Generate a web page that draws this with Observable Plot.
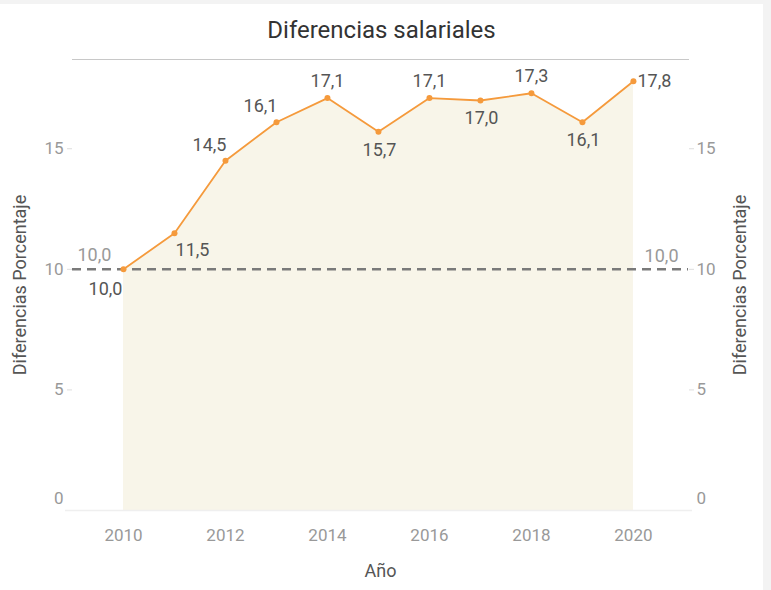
<!DOCTYPE html>
<html>
<head>
<meta charset="utf-8">
<script src="https://cdn.jsdelivr.net/npm/d3@7"></script>
<script src="https://cdn.jsdelivr.net/npm/@observablehq/plot@0.6"></script>
<style>
  html, body { margin: 0; padding: 0; }
  body { width: 771px; height: 590px; background: #f3f3f3; position: relative; overflow: hidden; font-family: Roboto, "Noto Sans", sans-serif; }
  #card { position: absolute; left: 0; top: 4px; width: 763px; height: 586px; background: #fff; }
  #title { position: absolute; left: 0; top: 0; width: 763px; height: 52px; line-height: 52px; text-align: center; font-size: 24px; color: #333; }
  #chart { position: absolute; left: 0; top: 50px; }
</style>
</head>
<body>
<div id="card">
  <div id="title">Diferencias salariales</div>
  <div id="chart"></div>
</div>
<script>
const years = [2010, 2011, 2012, 2013, 2014, 2015, 2016, 2017, 2018, 2019, 2020];
const values = [10.0, 11.5, 14.5, 16.1, 17.1, 15.7, 17.1, 17.0, 17.3, 16.1, 17.8];
const labelSide = ["bl", "br", "al", "al", "a", "b", "a", "b", "a", "b", "r"];
const referenceValue = 10.0;
const yTicks = [0, 5, 10, 15];
const xTicks = [2010, 2012, 2014, 2016, 2018, 2020];
const yTitle = "Diferencias Porcentaje";
const xTitle = "Año";

const data = years.map((year, i) => ({year, value: values[i], side: labelSide[i]}));
const fmt = v => v.toFixed(1).replace(".", ",");

const sides = {
  bl: {dx: -18, dy: 20, textAnchor: "middle"},
  br: {dx: 18, dy: 17, textAnchor: "middle"},
  al: {dx: -16, dy: -16, textAnchor: "middle"},
  a: {dx: 0, dy: -17, textAnchor: "middle"},
  b: {dx: 1, dy: 18, textAnchor: "middle"},
  r: {dx: 4, dy: 0, textAnchor: "start"}
};

const xDomain = [2009, 2021.08];
const labelFont = 18;
const tickFont = 17;
const labelMarks = Object.entries(sides).map(([key, s]) =>
  Plot.text(data.filter(d => d.side === key), {
    x: "year", y: "value", text: d => fmt(d.value),
    dx: s.dx, dy: s.dy, textAnchor: s.textAnchor,
    fill: "#555", fontSize: labelFont
  })
);

const chart = Plot.plot({
  width: 763,
  height: 536,
  marginTop: 5,
  marginLeft: 72,
  marginRight: 75,
  marginBottom: 80,
  style: {fontFamily: "Roboto, 'Noto Sans', sans-serif", background: "transparent", overflow: "visible"},
  x: {domain: xDomain},
  y: {domain: [0, 18.7]},
  marks: [
    Plot.areaY(data, {x: "year", y: "value", fill: "#f8f5e9"}),
    Plot.frame({anchor: "top", stroke: "#c8c8c8", strokeWidth: 1}),
    Plot.ruleY([0], {stroke: "#efefef", strokeWidth: 1.5, insetLeft: -7, insetRight: -4}),
    Plot.ruleY([referenceValue], {stroke: "#7a7a7a", strokeWidth: 2.5, strokeDasharray: "9,6"}),
    Plot.text([referenceValue], {x: xDomain[0], y: d => d, text: d => fmt(d), dx: 5, dy: -14, textAnchor: "start", fill: "#999", fontSize: labelFont}),
    Plot.text([referenceValue], {x: xDomain[1], y: d => d, text: d => fmt(d), dx: -10, dy: -13, textAnchor: "end", fill: "#999", fontSize: labelFont}),
    Plot.line(data, {x: "year", y: "value", stroke: "#f59a3c", strokeWidth: 1.8}),
    Plot.dot(data, {x: "year", y: "value", fill: "#f59a3c", r: 3}),
    ...labelMarks,
    Plot.axisY(yTicks.filter(t => t !== 0), {anchor: "left", tickSize: 5, tickPadding: 4, stroke: "#ddd", color: "#999", fontSize: tickFont, label: null}),
    Plot.axisY([0], {anchor: "left", tickSize: 0, tickPadding: 9, dy: -12, color: "#999", fontSize: tickFont, label: null}),
    Plot.axisY(yTicks.filter(t => t !== 0), {anchor: "right", tickSize: 5, tickPadding: 3, stroke: "#ddd", color: "#999", fontSize: tickFont, label: null}),
    Plot.axisY([0], {anchor: "right", tickSize: 0, tickPadding: 8, dy: -12, color: "#999", fontSize: tickFont, label: null}),
    Plot.axisX(xTicks, {anchor: "bottom", tickSize: 0, tickPadding: 18, tickFormat: d => String(d), color: "#999", fontSize: tickFont, label: null}),
    Plot.text([yTitle], {frameAnchor: "left", dx: -52, rotate: -90, textAnchor: "middle", fill: "#555", fontSize: 18, text: d => d}),
    Plot.text([yTitle], {frameAnchor: "right", dx: 52, rotate: -90, textAnchor: "middle", fill: "#555", fontSize: 18, text: d => d}),
    Plot.text([xTitle], {frameAnchor: "bottom", dy: 66, textAnchor: "middle", fill: "#555", fontSize: 18, text: d => d})
  ]
});
document.getElementById("chart").appendChild(chart);
</script>
</body>
</html>
